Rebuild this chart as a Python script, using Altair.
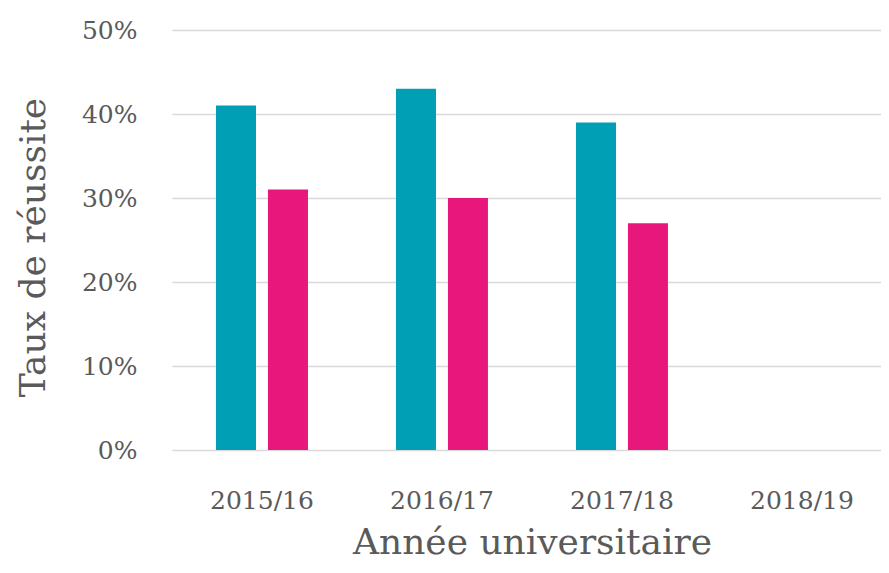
import altair as alt
import pandas as pd

years = ["2015/16", "2016/17", "2017/18", "2018/19"]
series = ["Série 1", "Série 2"]
values_s1 = [41, 43, 39]
values_s2 = [31, 30, 27]
colors = ["#009FB5", "#E8177C"]
y_ticks = [0, 10, 20, 30, 40, 50]

rows = []
for i, v in enumerate(values_s1):
    rows.append({"annee": years[i], "serie": series[0], "taux": v})
for i, v in enumerate(values_s2):
    rows.append({"annee": years[i], "serie": series[1], "taux": v})
df = pd.DataFrame(rows)

FONT = "DejaVu Serif"
TXT = "#5a5a5a"

chart = alt.Chart(df).mark_bar().encode(
    x=alt.X("annee:N", sort=years,
            scale=alt.Scale(domain=years, paddingInner=0.489, paddingOuter=0.214, align=0.571),
            axis=alt.Axis(title="Année universitaire", labelAngle=0, labelFontSize=25,
                          labelPadding=38, labelColor=TXT, labelFont=FONT,
                          domain=False, ticks=False, grid=False,
                          titleFont=FONT, titleFontSize=36, titleFontWeight="normal",
                          titleColor=TXT, titleX=360, titleY=103, titleAlign="center",
                          titleBaseline="alphabetic")),
    xOffset=alt.XOffset("serie:N", sort=series,
                        scale=alt.Scale(domain=series, paddingInner=0.23, paddingOuter=0)),
    y=alt.Y("taux:Q", scale=alt.Scale(domain=[0, 50], nice=False),
            axis=alt.Axis(values=y_ticks, labelExpr="datum.value + '%'",
                          title="Taux de réussite", labelFontSize=25, labelPadding=35,
                          labelColor=TXT, labelFont=FONT, domain=False, ticks=False,
                          grid=True, gridColor="#d9d9d9", gridWidth=1.5,
                          titleFont=FONT, titleFontSize=36, titleFontWeight="normal",
                          titleColor=TXT, titleAngle=-90, titleX=-139, titleY=217,
                          titleAlign="center", titleBaseline="middle")),
    color=alt.Color("serie:N", scale=alt.Scale(domain=series, range=colors), legend=None),
).properties(
    width=709, height=420,
    padding={"left": 164, "top": 22, "right": 0, "bottom": 115},
    autosize="none",
).configure_view(stroke=None)

chart.save("out.html", embed_options={"renderer": "svg", "actions": False})
